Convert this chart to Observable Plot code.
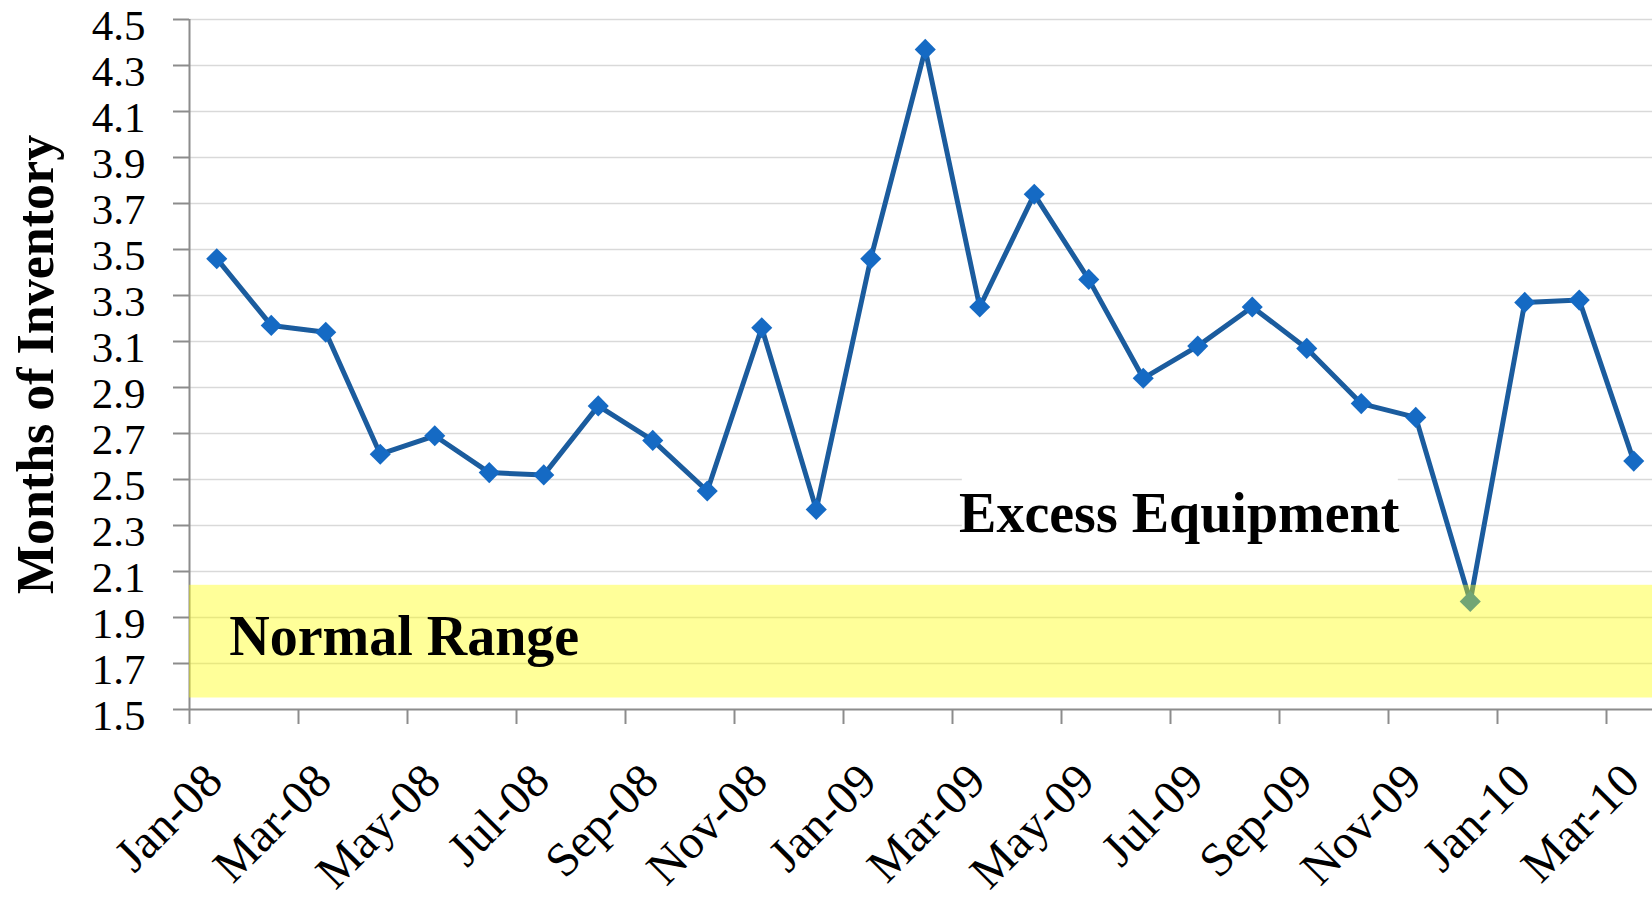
<!DOCTYPE html>
<html>
<head>
<meta charset="utf-8">
<script src="https://cdn.jsdelivr.net/npm/d3@7"></script>
<script src="https://cdn.jsdelivr.net/npm/@observablehq/plot@0.6"></script>
<style>
  html, body { margin: 0; padding: 0; background: #fff; overflow: hidden; }
  #chart svg { display: block; }
</style>
</head>
<body>
<div id="chart"></div>
<script>
// ---- data ----
const months = ["Jan-08","Feb-08","Mar-08","Apr-08","May-08","Jun-08","Jul-08","Aug-08","Sep-08","Oct-08","Nov-08","Dec-08",
                "Jan-09","Feb-09","Mar-09","Apr-09","May-09","Jun-09","Jul-09","Aug-09","Sep-09","Oct-09","Nov-09","Dec-09",
                "Jan-10","Feb-10","Mar-10"];
const inventory = [3.46, 3.17, 3.14, 2.61, 2.69, 2.53, 2.52, 2.82, 2.67, 2.45, 3.16, 2.37,
                   3.46, 4.37, 3.25, 3.74, 3.37, 2.94, 3.08, 3.25, 3.07, 2.83, 2.77, 1.97,
                   3.27, 3.28, 2.58];
const yTicks = [1.5, 1.7, 1.9, 2.1, 2.3, 2.5, 2.7, 2.9, 3.1, 3.3, 3.5, 3.7, 3.9, 4.1, 4.3, 4.5];
const normalRange = [{lo: 1.55, hi: 2.04, label: "Normal Range", labelX: 0.23, labelY: 1.735}];
const excess = [{label: "Excess Equipment", labelX: 13.62, labelY: 2.27, boxX1: 13.68, boxX2: 21.68, boxY1: 2.21, boxY2: 2.56}];
const yTitle = "Months of Inventory";

// ---- derived table ----
const data = months.map((m, i) => ({i, month: m, value: inventory[i]}));
const labelled = data.filter(d => d.i % 2 === 0);
const boundaries = labelled.map(d => d.i - 0.5);

const FONT = "Liberation Serif, Times New Roman, serif";
const AXIS = "#8c8c8c";

const chart = Plot.plot({
  width: 1652,
  height: 898,
  marginLeft: 189,
  marginRight: 0,
  marginTop: 19,
  marginBottom: 189,
  style: {fontFamily: FONT, background: "#fff"},
  x: {type: "linear", domain: [-0.5, months.length - 0.5], range: [189, 189 + 54.5 * months.length], axis: null},
  y: {domain: [1.5, 4.5], axis: null},
  marks: [
    // gridlines
    Plot.ruleY(yTicks.slice(1), {stroke: "#d9d9d9", strokeWidth: 1.5}),
    // white box behind "Excess Equipment"
    Plot.rect(excess, {x1: "boxX1", x2: "boxX2", y1: "boxY1", y2: "boxY2", fill: "#fff"}),
    // axes lines
    Plot.ruleX([-0.5], {stroke: AXIS, strokeWidth: 2}),
    Plot.ruleY([1.5], {stroke: AXIS, strokeWidth: 2}),
    // y ticks
    Plot.ruleY(yTicks, {x1: -0.5, x2: -0.5, insetLeft: -16, stroke: AXIS, strokeWidth: 2}),
    // x ticks
    Plot.ruleX(boundaries, {y1: 1.5, y2: 1.5, insetBottom: -15, stroke: AXIS, strokeWidth: 2}),
    // y tick labels
    Plot.text(yTicks, {frameAnchor: "left", y: d => d, text: d => d.toFixed(1), dx: -44, dy: 7,
      textAnchor: "end", lineAnchor: "middle", fontSize: 43, fontFamily: FONT, fill: "#000"}),
    // x tick labels
    Plot.text(labelled, {x: "i", frameAnchor: "bottom", text: "month", rotate: -45,
      textAnchor: "end", lineAnchor: "top", dx: -16, dy: 50, fontSize: 48, fontFamily: FONT, fill: "#000"}),
    // y title
    Plot.text([yTitle], {frameAnchor: "left", text: d => d, rotate: -90, dx: -137,
      textAnchor: "middle", lineAnchor: "bottom", fontSize: 52, fontWeight: "bold", fontFamily: FONT, fill: "#000"}),
    // series
    Plot.line(data, {x: "i", y: "value", stroke: "#1b5c9e", strokeWidth: 5}),
    Plot.dot(data, {x: "i", y: "value", symbol: "diamond2", r: 9.5, fill: "#156ac4", stroke: "none"}),
    // normal range band (semi-transparent, on top)
    Plot.rect(normalRange, {y1: "lo", y2: "hi", fill: "#ffff00", fillOpacity: 0.4}),
    // annotations
    Plot.text(normalRange, {x: "labelX", y: "labelY", text: "label", textAnchor: "start", lineAnchor: "bottom",
      fontSize: 56, fontWeight: "bold", fontFamily: FONT, fill: "#000"}),
    Plot.text(excess, {x: "labelX", y: "labelY", text: "label", textAnchor: "start", lineAnchor: "bottom",
      fontSize: 56, fontWeight: "bold", fontFamily: FONT, fill: "#000"})
  ]
});
document.getElementById("chart").appendChild(chart);
</script>
</body>
</html>
